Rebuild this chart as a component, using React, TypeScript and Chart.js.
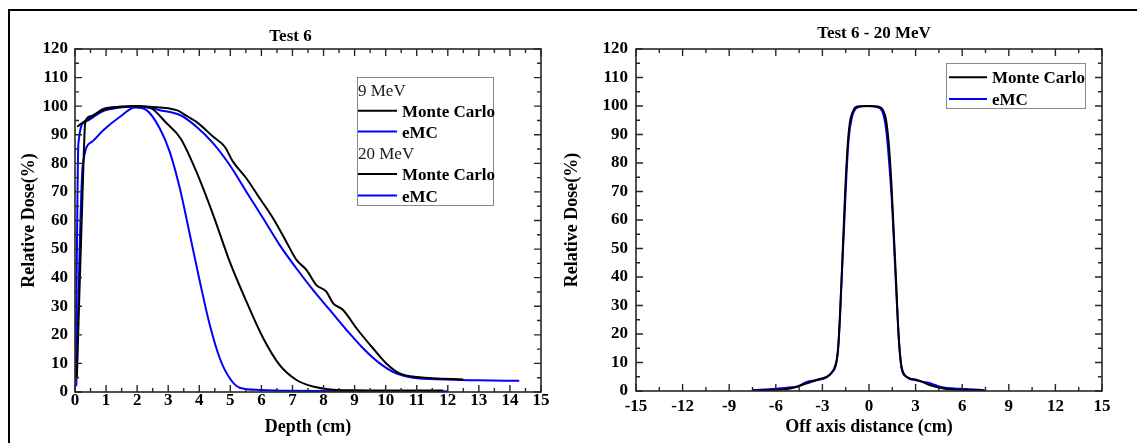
import { useEffect, useRef } from 'react';
import { Chart, registerables } from 'chart.js';

Chart.register(...registerables);

const FONT = '"Liberation Serif", "Times New Roman", Times, serif';

// ---------- Left chart: depth dose (Test 6) ----------
const energyLabels = ['9 MeV', '20 MeV'];
const seriesNames = ['Monte Carlo', 'eMC'];

const depth9MC = [0.06, 0.27, 0.33, 0.5, 0.91, 1.45, 2.0, 2.41, 2.95, 3.4, 3.91, 4.45, 4.98, 5.52, 6.06, 6.59, 7.13, 7.66, 8.2, 9.0, 10.0, 11.0, 11.85];
const dose9MC = [5, 79, 94.5, 96.5, 99, 99.8, 100, 99.5, 94, 88.7, 77, 61.9, 45.6, 31.6, 18.8, 9.4, 4.2, 1.9, 0.9, 0.6, 0.5, 0.5, 0.5];

const depth9EMC = [0.04, 0.25, 0.54, 0.91, 1.45, 1.93, 2.3, 2.73, 3.05, 3.38, 3.7, 4.02, 4.34, 4.66, 4.98, 5.3, 5.95, 7.0, 9.0, 12.0];
const dose9EMC = [2, 79.4, 87.5, 91.6, 96.3, 99.5, 98.6, 92.2, 84, 71, 54.9, 38.6, 23.4, 11.8, 4.8, 1.5, 0.7, 0.4, 0.3, 0.3];

const depth20MC = [0.07, 0.32, 0.91, 1.45, 2.0, 2.41, 3.27, 3.64, 3.91, 4.45, 4.82, 5.09, 5.52, 5.95, 6.38, 6.8, 7.13, 7.45, 7.77, 8.09, 8.31, 8.63, 9.06, 9.59, 10.02, 10.45, 10.88, 11.52, 12.5];
const dose20MC = [92.8, 94.8, 98.6, 99.8, 100, 99.8, 98.6, 96.3, 94.5, 89.3, 85.8, 80.5, 74.7, 67.7, 60.7, 52.6, 46.2, 42.7, 37.4, 35.1, 31, 28.7, 22.3, 15.3, 10, 6.5, 5.4, 4.8, 4.4];

const depth20EMC = [0.02, 0.11, 0.32, 0.91, 1.45, 2.0, 2.73, 3.38, 3.91, 4.45, 4.98, 5.52, 6.06, 6.59, 7.13, 7.66, 8.2, 8.74, 9.27, 9.81, 10.34, 10.88, 11.95, 13.0, 14.3];
const dose20EMC = [3, 87, 94.5, 98.3, 99.5, 100, 98.6, 96.9, 92.8, 87, 79.4, 70, 60.7, 51.4, 43.2, 35.7, 28.7, 21.7, 15.3, 10, 6.5, 5, 4.4, 4.1, 3.9];

// ---------- Right chart: profile (Test 6 - 20 MeV) ----------
const offMC = [-7.5, -6.0, -5.0, -4.0, -3.2, -2.5, -2.2, -2.0, -1.85, -1.7, -1.55, -1.4, -1.25, -1.0, -0.75, 0, 0.6, 0.9, 1.1, 1.3, 1.45, 1.6, 1.75, 1.9, 2.05, 2.3, 3.1, 3.9, 4.8, 5.9, 7.5];
const profMC = [0.2, 0.4, 1.0, 2.7, 4.2, 5.8, 8.5, 14, 28, 48, 68, 84, 93.5, 98.5, 99.8, 100, 99.8, 98.6, 95, 85, 72, 55, 38, 20, 10, 5.6, 3.9, 2.1, 0.9, 0.4, 0.2];

const offEMC = [-7.5, -6.0, -5.0, -4.6, -4.0, -3.4, -2.8, -2.4, -2.1, -1.95, -1.8, -1.6, -1.45, -1.3, -1.1, -0.8, -0.3, 0.6, 0.9, 1.1, 1.3, 1.5, 1.65, 1.8, 1.95, 2.1, 2.4, 3.0, 3.5, 3.93, 4.3, 4.8, 5.5, 6.3, 7.4];
const profEMC = [0.3, 0.8, 1.3, 1.6, 3.2, 3.8, 4.6, 6.5, 10, 18, 35, 58, 76, 89, 96, 99.3, 100, 99.5, 97.5, 92, 80, 64, 47, 30, 16, 8, 5, 3.8, 3.2, 2.7, 2.0, 1.2, 0.9, 0.7, 0.3];

const pts = (xs: number[], ys: number[]) => xs.map((x, i) => ({ x, y: ys[i] }));

const BLACK = '#000000';
const BLUE = '#0000ff';

const lineDs = (label: string, data: any, color: string) => ({
  label,
  data,
  borderColor: color,
  backgroundColor: color,
  borderWidth: 2,
  pointRadius: 0,
  fill: false,
  cubicInterpolationMode: 'monotone' as const,
});

// ---------- plugins ----------
const frameTicks = {
  id: 'frameTicks',
  afterDraw(chart: any, _args: any, opts: any) {
    const { ctx, chartArea: a, scales } = chart;
    const x = scales.x, y = scales.y;
    ctx.save();
    ctx.strokeStyle = '#262626';
    ctx.lineWidth = 1.6;
    ctx.strokeRect(a.left, a.top, a.right - a.left, a.bottom - a.top);
    const isMajor = (v: number, m: number) => Math.abs(v / m - Math.round(v / m)) < 1e-6;
    ctx.lineWidth = 1.4;
    ctx.beginPath();
    for (let v = x.min; v <= x.max + 1e-9; v += opts.xMinor) {
      const p = x.getPixelForValue(v);
      const L = isMajor(v, opts.xMajor) ? 7 : 4;
      ctx.moveTo(p, a.bottom); ctx.lineTo(p, a.bottom - L);
      ctx.moveTo(p, a.top); ctx.lineTo(p, a.top + L);
    }
    for (let v = y.min; v <= y.max + 1e-9; v += opts.yMinor) {
      const p = y.getPixelForValue(v);
      const L = isMajor(v, opts.yMajor) ? 7 : 4;
      ctx.moveTo(a.left, p); ctx.lineTo(a.left + L, p);
      ctx.moveTo(a.right, p); ctx.lineTo(a.right - L, p);
    }
    ctx.stroke();
    ctx.restore();
  },
};

const plotTitle = {
  id: 'plotTitle',
  afterDraw(chart: any, _args: any, opts: any) {
    const { ctx } = chart;
    ctx.save();
    ctx.font = `bold 17px ${FONT}`;
    ctx.fillStyle = '#000';
    ctx.textAlign = 'center';
    ctx.textBaseline = 'alphabetic';
    ctx.fillText(opts.text, opts.x, opts.y);
    ctx.restore();
  },
};

const boxLegend = {
  id: 'boxLegend',
  afterDraw(chart: any, _args: any, opts: any) {
    const { ctx } = chart;
    ctx.save();
    ctx.fillStyle = '#fff';
    ctx.fillRect(opts.x, opts.y, opts.w, opts.h);
    ctx.strokeStyle = '#8a8a8a';
    ctx.lineWidth = 1;
    ctx.strokeRect(opts.x + 0.5, opts.y + 0.5, opts.w, opts.h);
    ctx.textAlign = 'left';
    ctx.textBaseline = 'alphabetic';
    for (const r of opts.rows) {
      if (r.header !== undefined) {
        ctx.font = `17px ${FONT}`;
        ctx.fillStyle = '#1a1a1a';
        ctx.fillText(r.header, opts.lineX1, r.base);
      } else {
        const ds = chart.data.datasets[r.ds];
        ctx.strokeStyle = ds.borderColor;
        ctx.lineWidth = 2;
        ctx.beginPath();
        ctx.moveTo(opts.lineX1, r.base - 6);
        ctx.lineTo(opts.lineX2, r.base - 6);
        ctx.stroke();
        ctx.font = `bold 17px ${FONT}`;
        ctx.fillStyle = '#000';
        ctx.fillText(ds.label, opts.textX, r.base);
      }
    }
    ctx.restore();
  },
};

const tickFont = { family: FONT, size: 17, weight: 'bold' as const, lineHeight: 1 };
const titleFont = { family: FONT, size: 18, weight: 'bold' as const, lineHeight: 1.2 };

function xAxis(min: number, max: number, step: number, text: string, tickPad: number, titlePad: number, height: number) {
  return {
    type: 'linear' as const,
    position: 'bottom' as const,
    min, max,
    grid: { display: false, drawTicks: false },
    border: { display: false },
    ticks: { stepSize: step, autoSkip: false, maxRotation: 0, color: '#000', padding: tickPad, font: tickFont, callback: (v: any) => String(v) },
    title: { display: true, text, color: '#000', font: titleFont, padding: { top: 0, bottom: titlePad } },
    afterFit: (s: any) => { s.height = height; },
  };
}

function yAxis(tickPad: number, titlePad: number, width: number) {
  return {
    type: 'linear' as const,
    position: 'left' as const,
    min: 0, max: 120,
    grid: { display: false, drawTicks: false },
    border: { display: false },
    ticks: { stepSize: 10, autoSkip: false, color: '#000', padding: tickPad, font: tickFont, callback: (v: any) => String(v) },
    title: { display: true, text: 'Relative Dose(%)', color: '#000', font: titleFont, padding: { top: titlePad, bottom: 0 } },
    afterFit: (s: any) => { s.width = width; },
  };
}

function leftConfig(): any {
  return {
    type: 'line',
    data: {
      datasets: [
        lineDs(seriesNames[0], pts(depth9MC, dose9MC), BLACK),
        lineDs(seriesNames[1], pts(depth9EMC, dose9EMC), BLUE),
        lineDs(seriesNames[0], pts(depth20MC, dose20MC), BLACK),
        lineDs(seriesNames[1], pts(depth20EMC, dose20EMC), BLUE),
      ],
    },
    options: {
      responsive: false,
      animation: false,
      devicePixelRatio: 1,
      layout: { padding: { top: 49, right: 39, left: 0, bottom: 0 } },
      scales: {
        x: xAxis(0, 15, 1, 'Depth (cm)', 0, 5, 51),
        y: yAxis(7, 19, 75),
      },
      plugins: {
        legend: { display: false },
        tooltip: { enabled: false },
        title: { display: false },
        frameTicks: { xMajor: 1, xMinor: 0.5, yMajor: 10, yMinor: 5 },
        plotTitle: { text: 'Test 6', x: 290.5, y: 40.5 },
        boxLegend: {
          x: 357, y: 77, w: 136, h: 128, lineX1: 358, lineX2: 397, textX: 402,
          rows: [
            { header: energyLabels[0], base: 95.7 },
            { ds: 0, base: 116.7 },
            { ds: 1, base: 137.5 },
            { header: energyLabels[1], base: 159 },
            { ds: 2, base: 180 },
            { ds: 3, base: 201.5 },
          ],
        },
      },
    },
    plugins: [frameTicks, plotTitle, boxLegend],
  };
}

function rightConfig(): any {
  return {
    type: 'line',
    data: {
      datasets: [
        lineDs(seriesNames[0], pts(offMC, profMC), BLACK),
        lineDs(seriesNames[1], pts(offEMC, profEMC), BLUE),
      ],
    },
    options: {
      responsive: false,
      animation: false,
      devicePixelRatio: 1,
      layout: { padding: { top: 49, right: 35, left: 0, bottom: 0 } },
      scales: {
        x: xAxis(-15, 15, 3, 'Off axis distance (cm)', 7, 5, 52),
        y: yAxis(8, 6.4, 81),
      },
      plugins: {
        legend: { display: false },
        tooltip: { enabled: false },
        title: { display: false },
        frameTicks: { xMajor: 3, xMinor: 1.5, yMajor: 10, yMinor: 5 },
        plotTitle: { text: 'Test 6 - 20 MeV', x: 319, y: 38.3 },
        boxLegend: {
          x: 391, y: 63, w: 139, h: 45, lineX1: 394, lineX2: 432, textX: 437,
          rows: [
            { ds: 1, base: 105 },
            { ds: 0, base: 83.3 },
          ],
        },
      },
    },
    plugins: [frameTicks, plotTitle, boxLegend],
  };
}

export default function App() {
  const leftRef = useRef<HTMLCanvasElement>(null);
  const rightRef = useRef<HTMLCanvasElement>(null);

  useEffect(() => {
    const c1 = new Chart(leftRef.current as HTMLCanvasElement, leftConfig());
    const c2 = new Chart(rightRef.current as HTMLCanvasElement, rightConfig());
    return () => {
      c1.destroy();
      c2.destroy();
    };
  }, []);

  return (
    <div style={{ position: 'fixed', left: 0, top: 0, width: 1137, height: 443, background: '#fff', overflow: 'hidden' }}>
      <div
        style={{
          position: 'absolute', left: 8, top: 9, width: 1140, height: 440,
          borderTop: '2px solid #000', borderLeft: '2px solid #000', boxSizing: 'border-box',
        }}
      />
      <canvas ref={leftRef} width={580} height={443} style={{ position: 'absolute', left: 0, top: 0, width: 580, height: 443 }} />
      <canvas ref={rightRef} width={582} height={443} style={{ position: 'absolute', left: 555, top: 0, width: 582, height: 443 }} />
    </div>
  );
}
